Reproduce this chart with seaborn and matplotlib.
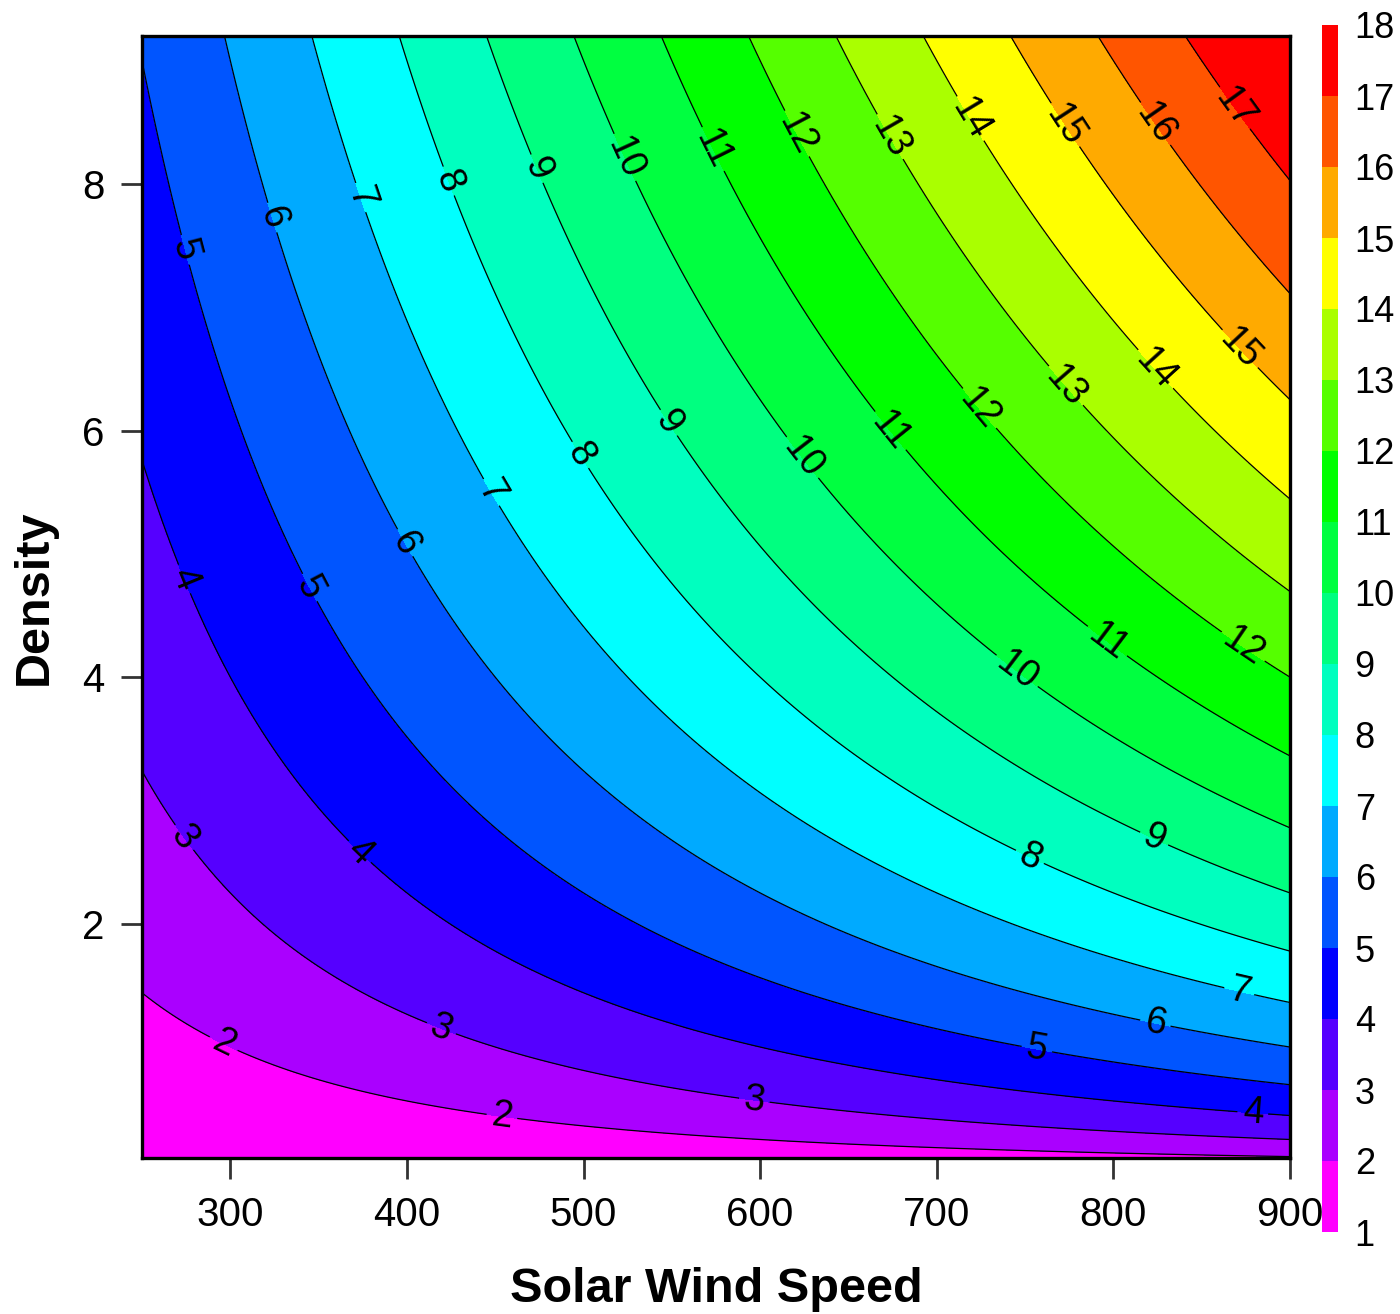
import numpy as np
import matplotlib
matplotlib.use("Agg")
import matplotlib.pyplot as plt
from matplotlib.colors import ListedColormap, BoundaryNorm
import seaborn as sns

# Grid of solar wind speed (km/s) and proton density (cm^-3)
speed_range = [250, 900]
density_range = [0.1, 9.2]
# Field value grows with speed and the square root of density
coef = 1.0 / 150.0

levels = list(range(1, 19))
level_colors = [
    "#FF00FF", "#AA00FF", "#5500FF", "#0000FF", "#0055FF", "#00AAFF",
    "#00FFFF", "#00FFBF", "#00FF80", "#00FF40", "#00FF00", "#55FF00",
    "#AAFF00", "#FFFF00", "#FFAA00", "#FF5500", "#FF0000",
]
x_ticks = [300, 400, 500, 600, 700, 800, 900]
y_ticks = [2, 4, 6, 8]

# Spots where the contour labels sit (speed, density)
label_spots = [
    (273, 7.46), (322, 7.72), (376, 7.90), (423, 8.02), (473, 8.12),
    (521, 8.20), (573, 8.28), (621, 8.41), (672, 8.37), (719, 8.53),
    (774, 8.49), (824, 8.49), (872, 8.65),
    (273, 4.79), (344, 4.72), (399, 5.09), (448, 5.50), (498, 5.80),
    (549, 6.07), (622, 5.76), (673, 5.99), (725, 6.19), (772, 6.35),
    (824, 6.50), (873, 6.68),
    (273, 2.69), (373, 2.58), (297, 1.05), (420, 1.17), (454, 0.46),
    (597, 0.60), (746, 4.06), (797, 4.30), (875, 4.28), (753, 2.55),
    (824, 2.72), (757, 1.01), (824, 1.21), (872, 1.50), (879, 0.48),
]

sns.set_theme(style="white")
plt.rcParams["font.family"] = ["Liberation Sans", "DejaVu Sans"]
plt.rcParams["text.color"] = "black"
plt.rcParams["xtick.color"] = "black"
plt.rcParams["ytick.color"] = "black"
plt.rcParams["axes.labelcolor"] = "black"

W, H = 1400, 1314
fig = plt.figure(figsize=(W / 100, H / 100), dpi=100)
ax = fig.add_axes([142 / W, 1 - 1158 / H, (1290 - 142) / W, (1158 - 36) / H])
cax = fig.add_axes([1322 / W, 1 - 1232 / H, 16 / W, (1232 - 25) / H])

v = np.linspace(speed_range[0], speed_range[1], 400)
n = np.linspace(density_range[0], density_range[1], 400)
V, N = np.meshgrid(v, n)
Z = coef * V * np.sqrt(N)

cmap = ListedColormap(level_colors)
cmap.set_under(level_colors[0])
cmap.set_over(level_colors[-1])
norm = BoundaryNorm(levels, cmap.N)
# filled bands drawn twice so no seams show between neighbouring bands
for _ in range(2):
    ax.contourf(V, N, Z, levels=levels, cmap=cmap, norm=norm, extend="both")
cs = ax.contour(V, N, Z, levels=levels[1:-1], colors="black", linewidths=0.9)
ax.clabel(cs, fmt="%d", fontsize=27, inline=True, inline_spacing=5,
          manual=label_spots)

ax.set_xlim(*speed_range)
ax.set_ylim(*density_range)
ax.set_xticks(x_ticks)
ax.set_yticks(y_ticks)
ax.tick_params(axis="both", which="major", length=15, width=2,
               labelsize=29, pad=12, bottom=True, left=True,
               labelcolor="black")
ax.tick_params(color="#333333")
for s in ax.spines.values():
    s.set_linewidth(2.4)
    s.set_color("black")
ax.set_xlabel("Solar Wind Speed", fontsize=35, fontweight="bold", labelpad=24)
ax.set_ylabel("Density", fontsize=35, fontweight="bold", labelpad=18)

# Colour key
cb_vals = np.array(levels, dtype=float)
cax.pcolormesh([0, 1], cb_vals, np.array(levels[:-1])[:, None] + 0.5,
               cmap=cmap, norm=norm)
cax.set_xlim(0, 1)
cax.set_ylim(levels[0], levels[-1])
cax.set_xticks([])
cax.yaxis.tick_right()
cax.set_yticks(levels)
cax.tick_params(axis="y", length=0, labelsize=26, pad=12, right=False,
                labelcolor="black")
for s in cax.spines.values():
    s.set_visible(False)

fig.savefig("out.png", dpi=100, facecolor="white")
